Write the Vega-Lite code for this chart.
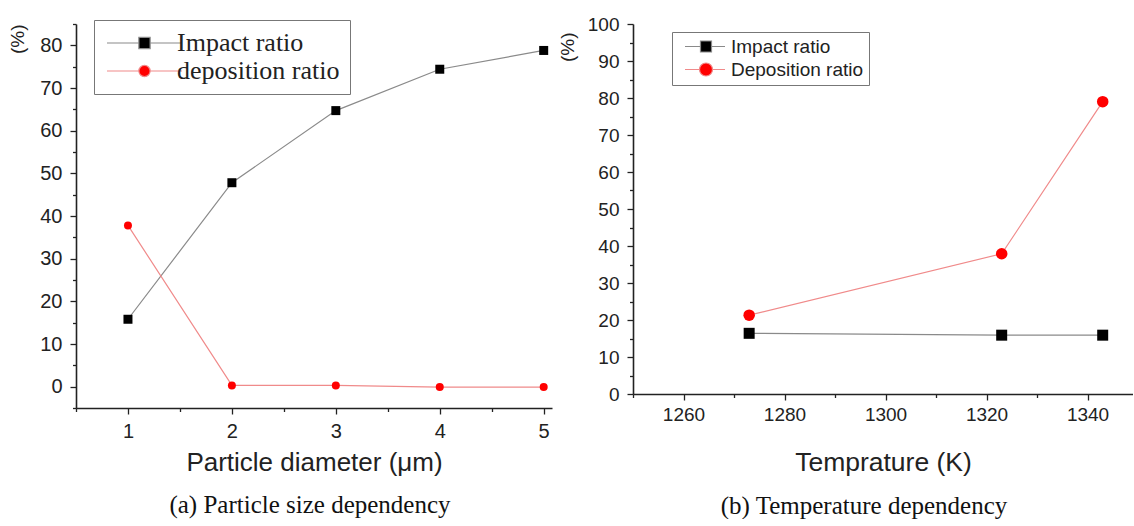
{
  "$schema": "https://vega.github.io/schema/vega-lite/v6.json",
  "background": "white",
  "padding": {"left": 8, "top": 15, "right": 0, "bottom": 0},
  "bounds": "flush",
  "spacing": 81,
  "resolve": {
    "scale": {"x": "independent", "y": "independent", "fill": "independent", "shape": "independent", "stroke": "independent"},
    "legend": {"fill": "independent", "shape": "independent", "stroke": "independent"}
  },
  "datasets": {
    "size": [
      {"diameter": 1, "series": "Impact ratio", "value": 15.8},
      {"diameter": 2, "series": "Impact ratio", "value": 47.8},
      {"diameter": 3, "series": "Impact ratio", "value": 64.7},
      {"diameter": 4, "series": "Impact ratio", "value": 74.4},
      {"diameter": 5, "series": "Impact ratio", "value": 78.8},
      {"diameter": 1, "series": "deposition ratio", "value": 37.8},
      {"diameter": 2, "series": "deposition ratio", "value": 0.3},
      {"diameter": 3, "series": "deposition ratio", "value": 0.3},
      {"diameter": 4, "series": "deposition ratio", "value": -0.1},
      {"diameter": 5, "series": "deposition ratio", "value": -0.1}
    ],
    "temp": [
      {"temperature": 1273, "series": "Impact ratio", "value": 16.4},
      {"temperature": 1323, "series": "Impact ratio", "value": 15.9},
      {"temperature": 1343, "series": "Impact ratio", "value": 15.9},
      {"temperature": 1273, "series": "Deposition ratio", "value": 21.3},
      {"temperature": 1323, "series": "Deposition ratio", "value": 37.9},
      {"temperature": 1343, "series": "Deposition ratio", "value": 79.0}
    ]
  },
  "config": {
    "view": {"stroke": null},
    "axis": {
      "grid": false,
      "domainColor": "#222",
      "domainWidth": 1.6,
      "tickColor": "#222",
      "tickWidth": 1.3,
      "labelColor": "#222",
      "labelFont": "Liberation Sans",
      "titleFont": "Liberation Sans",
      "titleColor": "#222",
      "titleFontWeight": "normal"
    }
  },
  "hconcat": [
    {
      "width": 476,
      "height": 384,
      "data": {"name": "size"},
      "title": {"text": "(a) Particle size dependency", "orient": "bottom", "anchor": "middle", "font": "Liberation Serif", "fontSize": 25, "fontWeight": "normal", "color": "#111", "offset": 18, "dx": -4},
      "encoding": {
        "x": {
          "field": "diameter", "type": "quantitative",
          "scale": {"domain": [0.5, 5.08], "nice": false, "zero": false},
          "axis": {
            "values": [0.5, 1, 1.5, 2, 2.5, 3, 3.5, 4, 4.5, 5],
            "labelExpr": "datum.value % 1 === 0 ? '' + datum.value : ''",
            "tickSize": {"condition": {"test": "datum.value % 1 !== 0", "value": 3.5}, "value": 6},
            "labelFontSize": 20, "labelPadding": 7,
            "title": "Particle diameter (μm)", "titleFontSize": 26, "titlePadding": 8
          }
        },
        "y": {
          "field": "value", "type": "quantitative",
          "scale": {"domain": [-5, 85], "nice": false, "zero": false},
          "axis": {
            "values": [-5, 0, 5, 10, 15, 20, 25, 30, 35, 40, 45, 50, 55, 60, 65, 70, 75, 80, 85],
            "labelExpr": "datum.value % 10 === 0 && datum.value >= 0 ? '' + datum.value : ''",
            "tickSize": {"condition": {"test": "datum.value % 10 !== 0", "value": 3.5}, "value": 6},
            "labelFontSize": 20, "labelPadding": 8,
            "title": "(%)", "titleFontSize": 19, "titleAnchor": "end", "titleAngle": -90,
            "titleX": -59, "titleY": 0, "titleAlign": "right", "titleBaseline": "middle"
          }
        }
      },
      "layer": [
        {
          "transform": [{"filter": "datum.series === 'Impact ratio'"}],
          "mark": {"type": "line", "strokeWidth": 1.2, "stroke": "#8a8a8a"}
        },
        {
          "transform": [{"filter": "datum.series === 'deposition ratio'"}],
          "mark": {"type": "line", "strokeWidth": 1.2, "stroke": "#f08a8a"}
        },
        {
          "transform": [{"filter": "datum.series === 'Impact ratio'"}],
          "mark": {"type": "point", "shape": "square", "filled": true, "fill": "#000", "size": 81, "opacity": 1, "strokeWidth": 0}
        },
        {
          "transform": [{"filter": "datum.series === 'deposition ratio'"}],
          "mark": {"type": "point", "shape": "circle", "filled": true, "fill": "#f00", "size": 64, "opacity": 1, "strokeWidth": 0}
        },
        {
          "transform": [{"filter": "false"}],
          "mark": {"type": "point", "filled": true, "size": 64, "opacity": 1},
          "encoding": {
            "fill": {"field": "series", "type": "nominal", "scale": {"domain": ["Impact ratio", "deposition ratio"], "range": ["#000", "#f00"]},
              "legend": {"title": null, "orient": "none", "legendX": 18, "legendY": -4, "strokeColor": "#777", "fillColor": "white", "padding": 10, "labelFont": "Liberation Serif", "labelFontSize": 26, "labelColor": "#222", "labelOffset": 47, "labelLimit": 400, "rowPadding": 2, "symbolStrokeWidth": 1.2, "symbolOpacity": 1}},
            "shape": {"field": "series", "type": "nominal", "scale": {"domain": ["Impact ratio", "deposition ratio"], "range": [
              "M-2,0H4.375M6.625,0H13M4.375,-1.125H6.625V1.125H4.375Z",
              "M-2,0H4.375M6.625,0H13M6.625,0A1.125,1.125 0 1,1 4.375,0A1.125,1.125 0 1,1 6.625,0Z"
            ]}},
            "stroke": {"field": "series", "type": "nominal", "scale": {"domain": ["Impact ratio", "deposition ratio"], "range": ["#8a8a8a", "#f08a8a"]}}
          }
        }
      ]
    },
    {
      "width": 500,
      "height": 370,
      "data": {"name": "temp"},
      "title": {"text": "(b) Temperature dependency", "orient": "bottom", "anchor": "middle", "font": "Liberation Serif", "fontSize": 25, "fontWeight": "normal", "color": "#111", "offset": 18, "dx": -19},
      "encoding": {
        "x": {
          "field": "temperature", "type": "quantitative",
          "scale": {"domain": [1250, 1349], "nice": false, "zero": false},
          "axis": {
            "values": [1250, 1260, 1270, 1280, 1290, 1300, 1310, 1320, 1330, 1340],
            "labelExpr": "datum.value % 20 === 0 ? '' + datum.value : ''",
            "tickSize": {"condition": {"test": "datum.value % 20 !== 0", "value": 3.5}, "value": 6},
            "labelFontSize": 19, "labelPadding": 5,
            "title": "Temprature (K)", "titleFontSize": 26.5, "titlePadding": 25
          }
        },
        "y": {
          "field": "value", "type": "quantitative",
          "scale": {"domain": [0, 100], "nice": false, "zero": false},
          "axis": {
            "values": [0, 5, 10, 15, 20, 25, 30, 35, 40, 45, 50, 55, 60, 65, 70, 75, 80, 85, 90, 95, 100],
            "labelExpr": "datum.value % 10 === 0 ? '' + datum.value : ''",
            "tickSize": {"condition": {"test": "datum.value % 10 !== 0", "value": 3.5}, "value": 6},
            "labelFontSize": 19, "labelPadding": 8,
            "title": "(%)", "titleFontSize": 19, "titleAnchor": "end", "titleAngle": -90,
            "titleX": -66, "titleY": 8, "titleAlign": "right", "titleBaseline": "middle"
          }
        }
      },
      "layer": [
        {
          "transform": [{"filter": "datum.series === 'Impact ratio'"}],
          "mark": {"type": "line", "strokeWidth": 1.2, "stroke": "#8a8a8a"}
        },
        {
          "transform": [{"filter": "datum.series === 'Deposition ratio'"}],
          "mark": {"type": "line", "strokeWidth": 1.2, "stroke": "#f08a8a"}
        },
        {
          "transform": [{"filter": "datum.series === 'Impact ratio'"}],
          "mark": {"type": "point", "shape": "square", "filled": true, "fill": "#000", "size": 121, "opacity": 1, "strokeWidth": 0}
        },
        {
          "transform": [{"filter": "datum.series === 'Deposition ratio'"}],
          "mark": {"type": "point", "shape": "circle", "filled": true, "fill": "#f00", "size": 133, "opacity": 1, "strokeWidth": 0}
        },
        {
          "transform": [{"filter": "false"}],
          "mark": {"type": "point", "filled": true, "size": 100, "opacity": 1},
          "encoding": {
            "fill": {"field": "series", "type": "nominal", "scale": {"domain": ["Impact ratio", "Deposition ratio"], "range": ["#000", "#f00"]},
              "legend": {"title": null, "orient": "none", "legendX": 39, "legendY": 8, "strokeColor": "#777", "fillColor": "white", "padding": 5, "labelFont": "Liberation Sans", "labelFontSize": 19, "labelColor": "#222", "labelOffset": 35, "labelLimit": 400, "rowPadding": 3, "symbolStrokeWidth": 1.2, "symbolOpacity": 1}},
            "shape": {"field": "series", "type": "nominal", "scale": {"domain": ["Impact ratio", "Deposition ratio"], "range": [
              "M-0.3,0H2.8M5,0H7.7M2.8,-1.1H5V1.1H2.8Z",
              "M-0.3,0H2.6M5.2,0H7.7M5.2,0A1.3,1.3 0 1,1 2.6,0A1.3,1.3 0 1,1 5.2,0Z"
            ]}},
            "stroke": {"field": "series", "type": "nominal", "scale": {"domain": ["Impact ratio", "Deposition ratio"], "range": ["#8a8a8a", "#f08a8a"]}}
          }
        }
      ]
    }
  ]
}
